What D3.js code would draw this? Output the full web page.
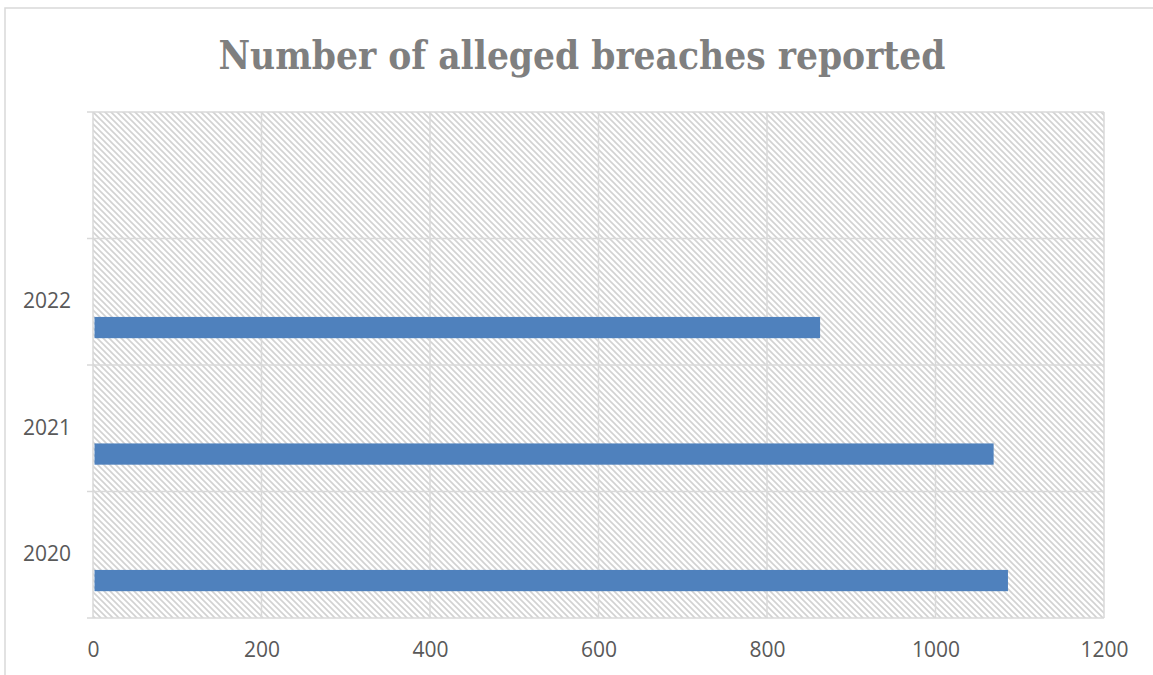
<!DOCTYPE html>
<html>
<head>
<meta charset="utf-8">
<script src="https://cdn.jsdelivr.net/npm/d3@7"></script>
<style>
  html, body { margin: 0; padding: 0; background: #fff; }
  svg { display: block; }
</style>
</head>
<body>
<svg id="chart" width="1153" height="675"></svg>
<script>
// ---- data ----
const title = "Number of alleged breaches reported";
const categories = ["2020", "2021", "2022", ""];
const values = [1086, 1069, 863, null];
const xTicks = [0, 200, 400, 600, 800, 1000, 1200];

// ---- layout ----
const W = 1153, H = 675;
const plot = { left: 93, right: 1104, top: 112, bottom: 618 };

const svg = d3.select("#chart");

// hatch pattern (light downward diagonal)
const defs = svg.append("defs");
const pat = defs.append("pattern")
  .attr("id", "hatch").attr("patternUnits", "userSpaceOnUse")
  .attr("width", 6).attr("height", 6)
  .attr("x", plot.left).attr("y", plot.top);
pat.append("rect").attr("width", 6).attr("height", 6).attr("fill", "#ffffff");
pat.append("path").attr("d", "M-3,-3 L9,9 M-3,3 L3,9 M3,-3 L9,3")
  .attr("stroke", "#d2d2d2").attr("stroke-width", 1.6);

// outer frame
svg.append("rect").attr("x", 5).attr("y", 8).attr("width", W + 10).attr("height", H + 10)
  .attr("fill", "none").attr("stroke", "#d9d9d9").attr("stroke-width", 1.5);

// scales
const x = d3.scaleLinear().domain([0, 1200]).range([plot.left, plot.right]);
const y = d3.scaleBand().domain(categories).range([plot.bottom, plot.top]).padding(0);
const bw = y.bandwidth();

// plot background
svg.append("rect")
  .attr("x", plot.left).attr("y", plot.top)
  .attr("width", plot.right - plot.left).attr("height", plot.bottom - plot.top)
  .attr("fill", "url(#hatch)");

// vertical gridlines
svg.append("g").selectAll("line").data(xTicks).join("line")
  .attr("x1", d => x(d)).attr("x2", d => x(d))
  .attr("y1", plot.top).attr("y2", plot.bottom)
  .attr("stroke", "#d9d9d9").attr("stroke-width", 1.5);

// horizontal band lines (with outward ticks)
const bandEdges = categories.map(c => y(c)).concat([plot.bottom]);
svg.append("g").selectAll("line").data(bandEdges).join("line")
  .attr("x1", plot.left - 6).attr("x2", plot.right)
  .attr("y1", d => d).attr("y2", d => d)
  .attr("stroke", "#d9d9d9").attr("stroke-width", 1.5);

// bars
const barData = categories.map((c, i) => ({ c, v: values[i] })).filter(d => d.v != null);
svg.append("g").selectAll("rect").data(barData).join("rect")
  .attr("x", x(0) + 1.5)
  .attr("y", d => y(d.c) + bw * 0.62)
  .attr("width", d => x(d.v) - x(0) - 1.5)
  .attr("height", bw * 0.168)
  .attr("fill", "#4f81bd");

// y-axis labels
const yAxis = d3.axisLeft(y).tickSize(0).tickPadding(22);
const gy = svg.append("g").attr("transform", `translate(${plot.left},0)`).call(yAxis);
gy.select(".domain").remove();
gy.selectAll("text")
  .attr("font-family", "'Open Sans', 'Noto Sans', sans-serif")
  .attr("font-size", 21).attr("fill", "#595959");

// x-axis labels
const xAxis = d3.axisBottom(x).tickValues(xTicks).tickSize(0).tickPadding(24).tickFormat(d3.format("d"));
const gx = svg.append("g").attr("transform", `translate(0,${plot.bottom})`).call(xAxis);
gx.select(".domain").remove();
gx.selectAll("text")
  .attr("font-family", "'Open Sans', 'Noto Sans', sans-serif")
  .attr("font-size", 21).attr("fill", "#595959");

// title
svg.append("text")
  .attr("x", 582).attr("y", 69)
  .attr("text-anchor", "middle")
  .attr("font-family", "'DejaVu Serif Condensed', 'DejaVu Serif', serif")
  .attr("font-stretch", "condensed")
  .attr("font-weight", "bold")
  .attr("font-size", 39)
  .attr("fill", "#7f7f7f")
  .attr("textLength", 727)
  .attr("lengthAdjust", "spacingAndGlyphs")
  .text(title);
</script>
</body>
</html>
